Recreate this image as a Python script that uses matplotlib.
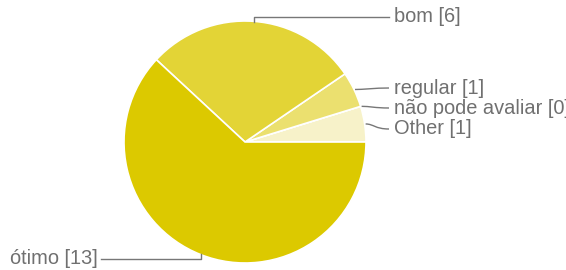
import numpy as np
import matplotlib.pyplot as plt
from matplotlib.path import Path
from matplotlib.patches import PathPatch

# data, in drawing order (counter-clockwise from 3 o'clock)
labels = ["Other", "não pode avaliar", "regular", "bom", "ótimo"]
counts = [1, 0, 1, 6, 13]
colors = ["#f7f2c9", "#f2ea9e", "#ebe06f", "#e3d436", "#dcc900"]

W, H = 566, 270
fig = plt.figure(figsize=(W / 100, H / 100), dpi=100)
ax = fig.add_axes([0, 0, 1, 1])

cx, cy, r = 245, H - 142, 121
ax.pie(counts, colors=colors, startangle=0, counterclock=True,
       center=(cx, cy), radius=r, frame=True,
       wedgeprops=dict(edgecolor="white", linewidth=1.2))
ax.set_xlim(0, W)
ax.set_ylim(0, H)
ax.set_aspect("equal")
ax.axis("off")

# label positions (pixel y from top) and leader style
label_y = {"bom": 17, "regular": 88, "não pode avaliar": 108, "Other": 129, "ótimo": 259}
text_x_right = 394
line_col = "#777777"
txt_col = "#707070"
fs = 14.4

total = sum(counts)
start = 0.0
for lab, n in zip(labels, counts):
    mid = np.deg2rad(start + n / total * 360 / 2)
    start += n / total * 360
    axp, ayp = cx + r * np.cos(mid), cy + r * np.sin(mid)
    ly = H - label_y[lab]
    if lab == "bom":
        ax.plot([axp, axp, text_x_right - 5], [ayp - 1, ly, ly], color=line_col, lw=1)
        ax.text(text_x_right, ly, f"{lab} [{n}]", ha="left", va="center",
                fontsize=fs, color=txt_col, family="Liberation Sans")
    elif lab == "ótimo":
        ax.plot([axp, axp, 101], [ayp + 1, ly, ly], color=line_col, lw=1)
        ax.text(98, ly, f"{lab} [{n}]", ha="right", va="center",
                fontsize=fs, color=txt_col, family="Liberation Sans")
    else:
        x0, x1 = axp + 1, text_x_right - 5
        verts = [(x0, ayp), (x0 + 8, ayp), (x1 - 14, ly), (x1, ly)]
        p = Path(verts, [Path.MOVETO, Path.CURVE4, Path.CURVE4, Path.CURVE4])
        ax.add_patch(PathPatch(p, fill=False, edgecolor=line_col, lw=1))
        ax.text(text_x_right, ly, f"{lab} [{n}]", ha="left", va="center",
                fontsize=fs, color=txt_col, family="Liberation Sans")

fig.savefig("out.png", dpi=100)
